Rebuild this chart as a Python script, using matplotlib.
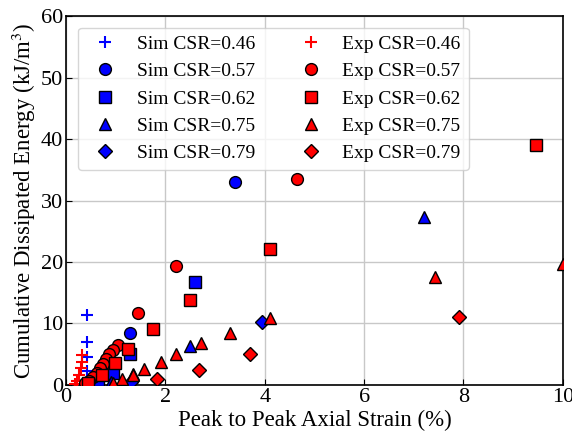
import numpy as np
import matplotlib
matplotlib.use('Agg')
import matplotlib.pyplot as plt

plt.rcParams['font.family'] = ['Liberation Serif', 'DejaVu Serif']
plt.rcParams['mathtext.fontset'] = 'stix'

# data (strain %, energy kJ/m3)
sim46_x = [0.42, 0.42, 0.42, 0.42, 0.42]
sim46_y = [11.4, 7.0, 4.6, 2.2, 0.8]
exp46_x = [0.33, 0.32, 0.30, 0.27, 0.22, 0.18]
exp46_y = [4.8, 3.7, 2.7, 1.6, 0.6, 0.2]

sim57_x = [3.40, 1.29, 0.75, 0.55]
sim57_y = [33.0, 8.4, 2.0, 0.6]
exp57_x = [4.65, 2.21, 1.45, 1.05, 0.95, 0.87, 0.80, 0.74, 0.68, 0.62, 0.55, 0.47, 0.38]
exp57_y = [33.5, 19.3, 11.7, 6.5, 5.7, 5.0, 4.2, 3.4, 2.7, 2.0, 1.3, 0.7, 0.3]

sim62_x = [2.60, 1.29, 0.95, 0.65]
sim62_y = [16.7, 5.1, 2.0, 0.8]
exp62_x = [9.45, 4.10, 2.50, 1.75, 1.25, 0.99, 0.72, 0.45]
exp62_y = [39.0, 22.1, 13.8, 9.1, 5.9, 3.6, 1.6, 0.3]

sim75_x = [7.20, 2.49, 1.35, 0.90]
sim75_y = [27.3, 6.3, 1.8, 0.5]
exp75_x = [10.0, 7.42, 4.10, 3.30, 2.72, 2.21, 1.91, 1.57, 1.35, 1.13, 0.95]
exp75_y = [19.7, 17.5, 10.9, 8.4, 6.8, 5.0, 3.8, 2.6, 1.6, 1.0, 0.4]

sim79_x = [3.95, 1.30]
sim79_y = [10.3, 0.5]
exp79_x = [7.90, 3.70, 2.68, 1.83]
exp79_y = [11.0, 5.1, 2.5, 0.9]

csr = ['0.46', '0.57', '0.62', '0.75', '0.79']
sims = [(sim46_x, sim46_y), (sim57_x, sim57_y), (sim62_x, sim62_y), (sim75_x, sim75_y), (sim79_x, sim79_y)]
exps = [(exp46_x, exp46_y), (exp57_x, exp57_y), (exp62_x, exp62_y), (exp75_x, exp75_y), (exp79_x, exp79_y)]
markers = ['+', 'o', 's', '^', 'D']
sizes = [8, 8.5, 8, 8.5, 7.5]

fig = plt.figure(figsize=(5.72, 4.41), dpi=100)
ax = fig.add_axes([0.1154, 0.127, 0.8686, 0.8367])

for i in range(5):
    sx, sy = sims[i]
    if markers[i] == '+':
        ax.plot(sx, sy, '+', color='blue', ms=sizes[i], mew=1.5, ls='none', label='Sim CSR=' + csr[i], zorder=3)
    else:
        ax.plot(sx, sy, markers[i], color='blue', mec='black', mew=1.0, ms=sizes[i], ls='none', label='Sim CSR=' + csr[i], zorder=3)
for i in range(5):
    ex, ey = exps[i]
    if markers[i] == '+':
        ax.plot(ex, ey, '+', color='red', ms=sizes[i], mew=1.5, ls='none', label='Exp CSR=' + csr[i], zorder=3)
    else:
        ax.plot(ex, ey, markers[i], color='red', mec='black', mew=1.0, ms=sizes[i], ls='none', label='Exp CSR=' + csr[i], zorder=3)

ax.set_xlim(0, 10)
ax.set_ylim(0, 60)
ax.set_xticks([0, 2, 4, 6, 8, 10])
ax.set_yticks([0, 10, 20, 30, 40, 50, 60])
ax.grid(True, color='#c8c8c8', lw=1.0)
ax.set_axisbelow(True)
ax.tick_params(direction='in', labelsize=16, length=4, pad=2)
ax.set_xlabel('Peak to Peak Axial Strain (%)', fontsize=16.5, labelpad=2)
ax.set_ylabel('Cumulative Dissipated Energy (kJ/m$^3$)', fontsize=16.5, labelpad=2)
for s in ax.spines.values():
    s.set_linewidth(1.2)

ax.legend(ncol=2, loc='upper left', fontsize=14, framealpha=0.8, columnspacing=1.9,
          handletextpad=0.6, borderpad=0.4, labelspacing=0.5, bbox_to_anchor=(0.005, 0.995))

fig.savefig('out.png', dpi=100)
